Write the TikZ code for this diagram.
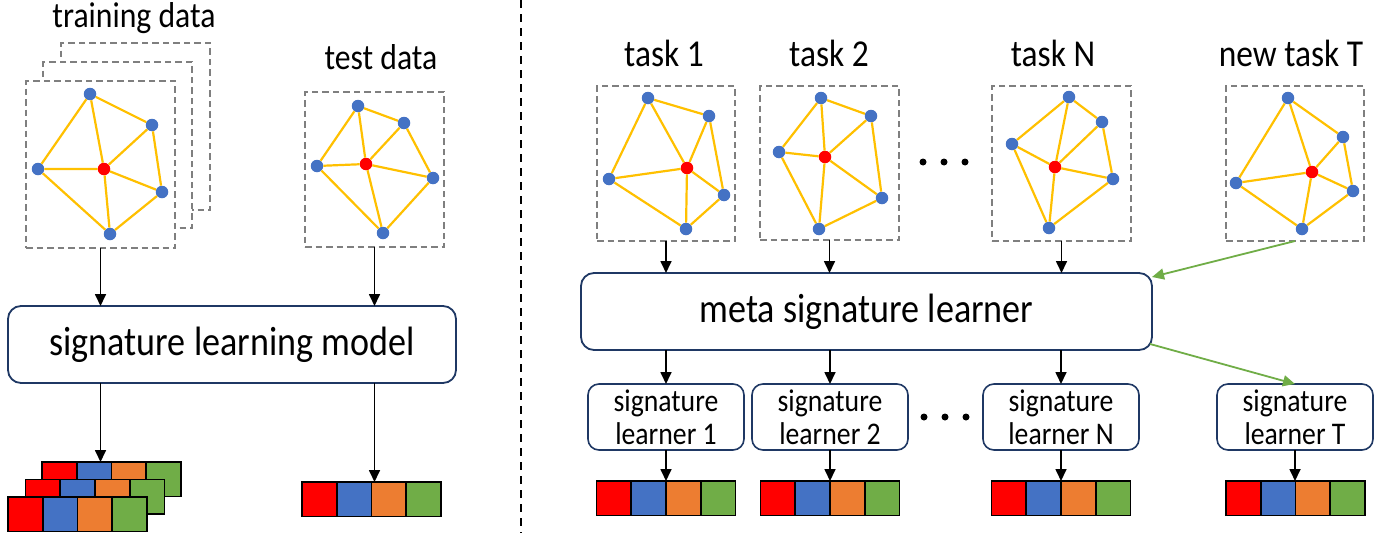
\documentclass[tikz,border=0pt]{standalone}
\usepackage{fontspec}
\setmainfont{Carlito}[FakeStretch=0.88]
\usetikzlibrary{arrows.meta,calc}
\definecolor{gblue}{HTML}{4472C4}
\definecolor{gred}{HTML}{FF0000}
\definecolor{gyellow}{HTML}{FFC000}
\definecolor{gorange}{HTML}{ED7D31}
\definecolor{ggreen}{HTML}{70AD47}
\definecolor{ggray}{HTML}{7F7F7F}
\definecolor{navy}{HTML}{1F3864}
\tikzset{
  vb/.style={circle,fill=gblue,inner sep=0pt,minimum size=12.5pt},
  vr/.style={circle,fill=gred,inner sep=0pt,minimum size=12.5pt},
  ed/.style={draw=gyellow,line width=2.2pt},
  frm/.style={draw=ggray,line width=1.8pt,dash pattern=on 6.5pt off 4pt,inner sep=0pt,outer sep=0pt},
  bigbox/.style={draw=navy,line width=1.8pt,rounded corners=13pt,inner sep=0pt,outer sep=0pt,align=center},
  slbox/.style={draw=navy,line width=1.6pt,rounded corners=11pt,inner sep=0pt,outer sep=0pt,minimum width=156pt,minimum height=66pt,align=center,font=\fontsize{31.5}{33}\selectfont},
  arr/.style={line width=1.7pt,-{Triangle[length=12pt,width=11pt]}},
  garr/.style={draw=ggreen,line width=1.8pt,-{Triangle[length=12pt,width=11pt]}},
  cell/.style={draw=black,line width=1.6pt,inner sep=0pt,outer sep=0pt,minimum width=34.75pt,minimum height=34.5pt},
  ttl/.style={anchor=base,inner sep=0pt},
  dot/.style={circle,fill=black,inner sep=0pt,minimum size=7pt},
}
\newcommand\gnet[7]{%
  \node[vb] (#1t) at (#2) {};
  \node[vb] (#1u) at (#3) {};
  \node[vb] (#1l) at (#4) {};
  \node[vr] (#1c) at (#5) {};
  \node[vb] (#1r) at (#6) {};
  \node[vb] (#1b) at (#7) {};
  \draw[ed] (#1t)--(#1l) (#1t)--(#1c) (#1t)--(#1u) (#1u)--(#1c) (#1u)--(#1r)
            (#1l)--(#1c) (#1l)--(#1b) (#1c)--(#1r) (#1c)--(#1b) (#1r)--(#1b);}
\newcommand\cellrow[3]{%
  \node[cell,fill=gred,anchor=north west] (#1a) at (#2,#3) {};
  \node[cell,fill=gblue,anchor=west] (#1b) at (#1a.east) {};
  \node[cell,fill=gorange,anchor=west] (#1c) at (#1b.east) {};
  \node[cell,fill=ggreen,anchor=west] (#1d) at (#1c.east) {};}
\begin{document}
\begin{tikzpicture}[x=1pt,y=-1pt]
\useasboundingbox (0,0) rectangle (1387,533);
% ---------- left part ----------
\node[ttl,font=\fontsize{36}{40}\selectfont] (ttrain) at (134,27) {training data};
\node[ttl,font=\fontsize{36}{40}\selectfont] (ttest) at (381,69) {test data};
\node[frm,fill=white,minimum width=149pt,minimum height=167pt] (trB) at (135.5,126.5) {};
\node[frm,fill=white,minimum width=149pt,minimum height=166pt] (trM) at (117.5,145) {};
\node[frm,fill=white,minimum width=149pt,minimum height=167pt] (trF) at (100.5,164.5) {};
\gnet{a}{90,94}{152,125}{38,169}{104,169}{162,192}{110,234}
\node[frm,minimum width=139pt,minimum height=155pt] (teF) at (374.5,169.5) {};
\gnet{b}{358,106}{404,123}{317,166}{366,164}{433,178}{383,233}
\node[bigbox,minimum width=448pt,minimum height=77pt,font=\fontsize{41}{46}\selectfont] (slm) at (232,344.5) {signature learning model};
\draw[arr] (trF.south) -- (trF.south |- slm.north);
\draw[arr] (teF.south) -- (teF.south |- slm.north);
\cellrow{k}{42}{462}
\cellrow{m}{25.5}{479.5}
\cellrow{f}{8}{497}
\cellrow{t}{302}{482}
\draw[arr] (trF.south |- slm.south) -- (trF.south |- ka.north);
\draw[arr] (teF.south |- slm.south) -- (teF.south |- ta.north);
% divider
\coordinate (dvt) at (521,0);
\coordinate (dvb) at (521,533);
\draw[line width=1.5pt,dash pattern=on 8pt off 6pt] (dvt) -- (dvb);
% ---------- right part ----------
\node[ttl,font=\fontsize{38}{42}\selectfont] (tt1) at (664,66) {task 1};
\node[ttl,font=\fontsize{38}{42}\selectfont] (tt2) at (829,66) {task 2};
\node[ttl,font=\fontsize{38}{42}\selectfont] (ttN) at (1053,66) {task N};
\node[ttl,font=\fontsize{38}{42}\selectfont] (ttT) at (1291,66) {new task T};
\node[frm,minimum width=138pt,minimum height=155pt] (f1) at (666,163.5) {};
\gnet{c}{648,98}{709,116}{609,179}{687,168}{724,195}{686,229}
\node[frm,minimum width=139pt,minimum height=154pt] (f2) at (829.5,163) {};
\gnet{d}{821,98}{871,116}{779,152}{825,157}{882,198}{819,229}
\node[frm,minimum width=139pt,minimum height=155pt] (fN) at (1061.5,163.5) {};
\gnet{e}{1069,97}{1102,122}{1012,144}{1055,167}{1113,179}{1049,228}
\node[frm,minimum width=138pt,minimum height=155pt] (fT) at (1295,163.5) {};
\gnet{g}{1288,98}{1343,137}{1236,183}{1312,172}{1353,191}{1302,229}
\node[dot] (d1) at (923,162) {};
\node[dot] (d2) at (944,162) {};
\node[dot] (d3) at (965,162) {};
\node[bigbox,minimum width=571pt,minimum height=77pt,font=\fontsize{41}{46}\selectfont] (meta) at (866.5,311.5) {meta signature learner};
\draw[arr] (f1.south) -- (f1.south |- meta.north);
\draw[arr] (f2.south) -- (f2.south |- meta.north);
\draw[arr] (fN.south) -- (fN.south |- meta.north);
\coordinate (metaIn) at (1152,277);
\coordinate (metaOut) at (1150,344);
\draw[garr] (fT.south) -- (metaIn);
\node[slbox] (s1) at (666,417) {signature\\learner 1};
\node[slbox] (s2) at (830,417) {signature\\learner 2};
\node[slbox] (sN) at (1061,417) {signature\\learner N};
\node[slbox] (sT) at (1295,417) {signature\\learner T};
\node[dot] (e1) at (924,417) {};
\node[dot] (e2) at (945,417) {};
\node[dot] (e3) at (966,417) {};
\draw[arr] (meta.south -| s1.north) -- (s1.north);
\draw[arr] (meta.south -| s2.north) -- (s2.north);
\draw[arr] (meta.south -| sN.north) -- (sN.north);
\draw[garr] (metaOut) -- (sT.north);
\cellrow{p}{596.5}{481}
\cellrow{q}{760.5}{481}
\cellrow{r}{991.5}{481}
\cellrow{s}{1226}{481}
\draw[arr] (s1.south) -- (s1.south |- pa.north);
\draw[arr] (s2.south) -- (s2.south |- qa.north);
\draw[arr] (sN.south) -- (sN.south |- ra.north);
\draw[arr] (sT.south) -- (sT.south |- sa.north);
\end{tikzpicture}
\end{document}
